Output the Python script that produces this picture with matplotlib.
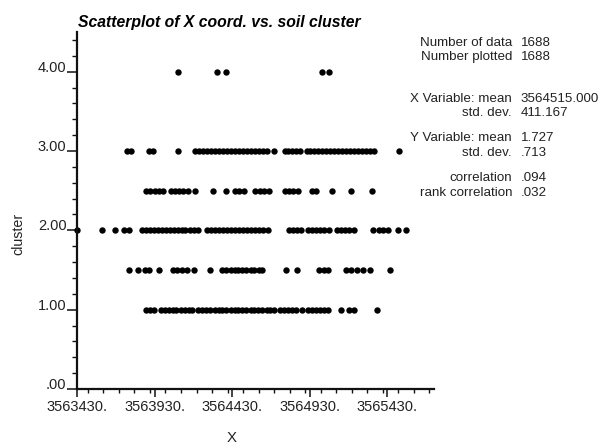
import numpy as np
import matplotlib
matplotlib.use("Agg")
import matplotlib.pyplot as plt
from matplotlib.ticker import MultipleLocator, FixedLocator

plt.rcParams['font.family'] = ['Liberation Sans', 'DejaVu Sans']

# x coordinate of samples, grouped by soil cluster value
x_c1 = [3563874, 3563900, 3563926, 3563968, 3563994, 3564020, 3564046, 3564071,
        3564097, 3564123, 3564149, 3564170, 3564209, 3564234, 3564260, 3564286,
        3564316, 3564342, 3564367, 3564393, 3564419, 3564445, 3564470, 3564496,
        3564522, 3564548, 3564573, 3564599, 3564625, 3564651, 3564676, 3564702,
        3564741, 3564766, 3564792, 3564818, 3564844, 3564878, 3564921, 3564947,
        3564972, 3564998, 3565024, 3565049, 3565129, 3565183, 3565213, 3565361]
x_c15 = [3563767, 3563820, 3563868, 3563896, 3563958, 3564046, 3564076, 3564106,
         3564136, 3564187, 3564286, 3564367, 3564393, 3564419, 3564445, 3564470,
         3564496, 3564522, 3564548, 3564573, 3564603, 3564625, 3564779, 3564848,
         3564989, 3565019, 3565049, 3565161, 3565198, 3565234, 3565273, 3565320,
         3565444]
x_c2 = [3563430, 3563589, 3563675, 3563735, 3563765, 3563846, 3563872, 3563898,
        3563923, 3563949, 3563975, 3564001, 3564026, 3564052, 3564078, 3564104,
        3564129, 3564155, 3564181, 3564207, 3564269, 3564294, 3564320, 3564346,
        3564372, 3564397, 3564423, 3564449, 3564475, 3564500, 3564526, 3564552,
        3564578, 3564603, 3564629, 3564663, 3564794, 3564820, 3564846, 3564876,
        3564921, 3564947, 3564972, 3564998, 3565024, 3565054, 3565107, 3565133,
        3565159, 3565185, 3565217, 3565335, 3565373, 3565401, 3565433, 3565496,
        3565547]
x_c25 = [3563874, 3563902, 3563930, 3563958, 3563986, 3564033, 3564061, 3564089,
         3564116, 3564144, 3564192, 3564303, 3564393, 3564447, 3564475, 3564503,
         3564578, 3564606, 3564633, 3564668, 3564769, 3564796, 3564824, 3564852,
         3564947, 3564972, 3565075, 3565193, 3565333]
x_c3 = [3563754, 3563775, 3563891, 3563917, 3564078, 3564189, 3564215, 3564241,
        3564267, 3564292, 3564318, 3564344, 3564370, 3564395, 3564421, 3564447,
        3564473, 3564498, 3564524, 3564550, 3564575, 3564601, 3564627, 3564653,
        3564698, 3564769, 3564790, 3564816, 3564841, 3564869, 3564912, 3564934,
        3564959, 3564985, 3565011, 3565037, 3565062, 3565088, 3565114, 3565140,
        3565165, 3565191, 3565217, 3565243, 3565268, 3565294, 3565320, 3565346,
        3565504]
x_c4 = [3564082, 3564333, 3564387, 3565009, 3565052]

groups = [(1.0, x_c1), (1.5, x_c15), (2.0, x_c2), (2.5, x_c25), (3.0, x_c3), (4.0, x_c4)]

x_ticks = [3563430, 3563930, 3564430, 3564930, 3565430]
x_ticklabels = ['3563430.', '3563930.', '3564430.', '3564930.', '3565430.']
y_ticks = [0, 1, 2, 3, 4]
y_ticklabels = ['.00', '1.00', '2.00', '3.00', '4.00']

stats_labels = ['Number of data', 'Number plotted', 'X Variable: mean', 'std. dev.',
                'Y Variable: mean', 'std. dev.', 'correlation', 'rank correlation']
stats_values = ['1688', '1688', '3564515.000', '411.167', '1.727', '.713', '.094', '.032']
stats_rows_px = [43, 57, 99.5, 113.5, 138, 152.5, 177.5, 192.5]

txt = '#222222'

fig = plt.figure(figsize=(6.01, 4.44), dpi=100)
W, H = 601, 444
ax = fig.add_axes([77 / W, 1 - 389 / H, (434 - 77) / W, (389 - 32) / H])

for yv, xs in groups:
    ax.plot(xs, [yv] * len(xs), 'o', color='black', markersize=4.6,
            markeredgewidth=0, clip_on=False)

ax.set_xlim(3563430, 3565730)
ax.set_ylim(0, 4.5)

for side in ['top', 'right']:
    ax.spines[side].set_visible(False)
for side in ['left', 'bottom']:
    ax.spines[side].set_linewidth(1.6)
    ax.spines[side].set_color('#111111')

ax.xaxis.set_major_locator(FixedLocator(x_ticks))
ax.set_xticklabels(x_ticklabels)
ax.xaxis.set_minor_locator(MultipleLocator(100))
ax.yaxis.set_major_locator(FixedLocator(y_ticks))
ax.set_yticklabels(y_ticklabels)
ax.yaxis.set_minor_locator(MultipleLocator(0.2))

ax.tick_params(axis='x', which='major', direction='out', length=6, width=1.1,
               pad=2, labelsize=10.5, labelcolor=txt, color='#111111')
ax.tick_params(axis='x', which='minor', direction='out', length=3, width=1.0, color='#111111')
ax.tick_params(axis='y', which='major', direction='out', length=7, width=1.1,
               pad=0.5, labelsize=10.5, labelcolor=txt, color='#111111')
ax.tick_params(axis='y', which='minor', direction='out', length=3.5, width=1.0, color='#111111')
for lbl in ax.get_yticklabels():
    lbl.set_verticalalignment('baseline')

ax.patch.set_visible(False)

# title and axis labels
fig.text(78 / W, 1 - 22 / H, 'Scatterplot of X coord. vs. soil cluster', fontsize=11.3,
         fontweight='bold', fontstyle='italic', ha='left', va='center', color='black')
fig.text(18 / W, 1 - 234 / H, 'cluster', fontsize=10.3, rotation=90,
         ha='center', va='center', color=txt)
fig.text(232 / W, 1 - 438 / H, 'X', fontsize=10.8, ha='center', va='center', color=txt)

# summary statistics block
for lab, val, ypx in zip(stats_labels, stats_values, stats_rows_px):
    fig.text(512 / W, 1 - ypx / H, lab, fontsize=9.6, ha='right', va='center', color=txt)
    fig.text(520.5 / W, 1 - ypx / H, val, fontsize=9.6, ha='left', va='center', color=txt)

fig.savefig('out.png', dpi=100)
